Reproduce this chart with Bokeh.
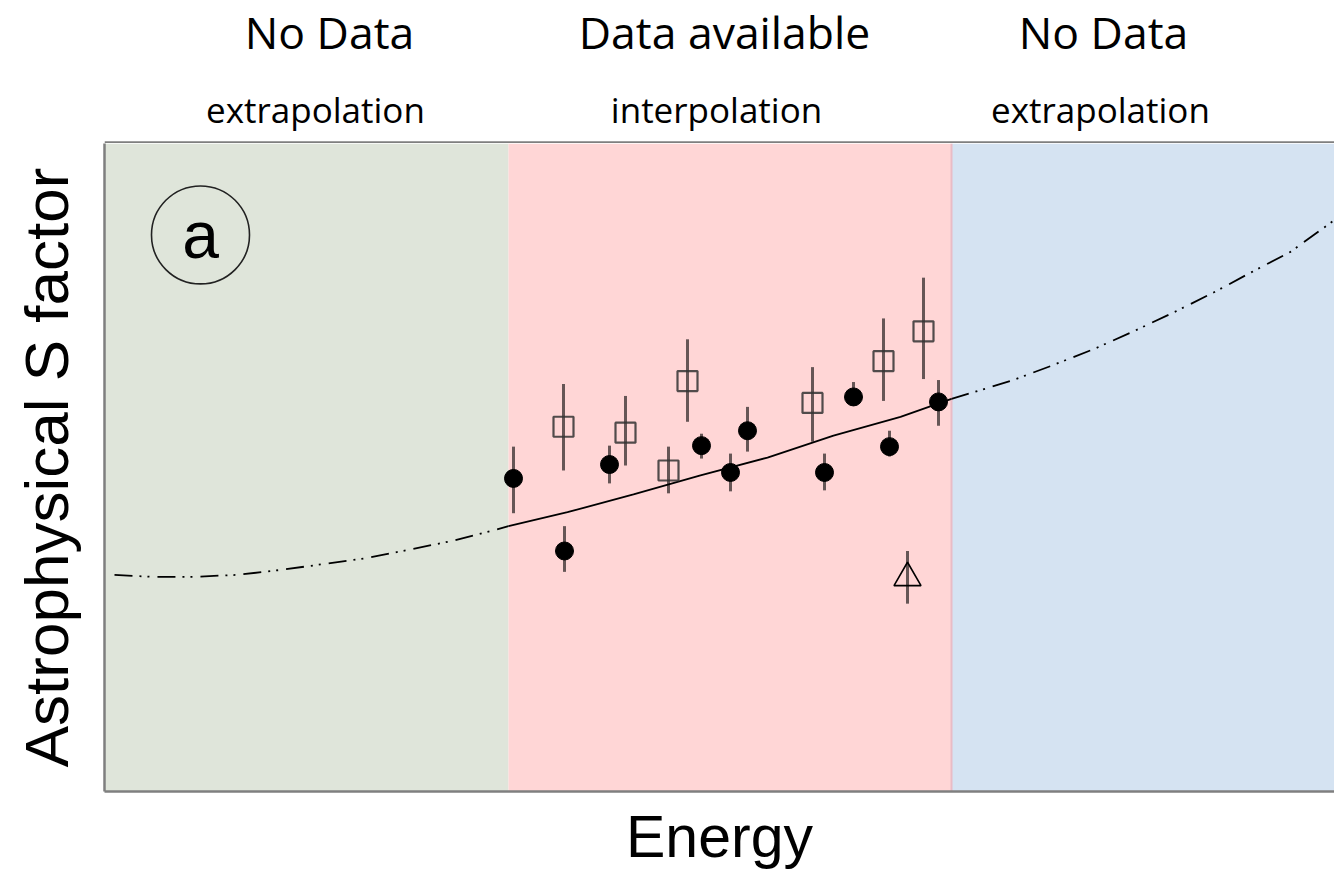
from bokeh.plotting import figure
from bokeh.layouts import column
from bokeh.models import Range1d, Label, FixedTicker
from bokeh.core.properties import value
from bokeh.embed import file_html
from bokeh.resources import INLINE

# ---------------- data ----------------
region_left = [0.0, 4.04, 8.47]
region_right = [4.04, 8.47, 12.3]
region_titles = ["No Data", "Data available", "No Data"]
region_subtitles = ["extrapolation", "interpolation", "extrapolation"]

# measured points (filled circles)
circ_x = [4.09, 4.60, 5.05, 5.97, 6.26, 6.43, 7.20, 7.49, 7.85, 8.34]
circ_y = [3.15, 2.42, 3.29, 3.48, 3.21, 3.63, 3.21, 3.97, 3.47, 3.92]
circ_lo = [2.80, 2.21, 3.10, 3.35, 3.02, 3.42, 3.03, 3.88, 3.37, 3.68]
circ_hi = [3.47, 2.67, 3.48, 3.60, 3.40, 3.87, 3.40, 4.12, 3.63, 4.14]

# measured points (open squares)
sq_x = [4.59, 5.21, 5.64, 5.83, 7.08, 7.79, 8.19]
sq_y = [3.67, 3.61, 3.23, 4.13, 3.91, 4.33, 4.63]
sq_lo = [3.23, 3.28, 3.00, 3.72, 3.52, 3.93, 4.15]
sq_hi = [4.10, 3.98, 3.47, 4.55, 4.27, 4.76, 5.17]

# measured point (open triangle)
tri_x = [8.03]
tri_y = [2.15]
tri_lo = [1.89]
tri_hi = [2.42]

# fitted S-factor curve
fit_lo_x = [0.10, 0.47, 0.90, 1.33, 1.77, 2.20, 2.63, 3.03, 3.47, 3.90, 4.04]
fit_lo_y = [2.18, 2.16, 2.16, 2.18, 2.23, 2.29, 2.35, 2.43, 2.52, 2.63, 2.67]
fit_mid_x = [4.04, 4.63, 5.29, 5.96, 6.63, 7.29, 7.96, 8.47]
fit_mid_y = [2.67, 2.81, 2.99, 3.18, 3.36, 3.58, 3.77, 3.95]
fit_hi_x = [8.47, 9.06, 9.46, 9.89, 10.29, 10.69, 11.09, 11.46, 11.86, 12.30]
fit_hi_y = [3.95, 4.13, 4.28, 4.45, 4.63, 4.82, 5.02, 5.22, 5.43, 5.75]

# ---------------- style / layout ----------------
region_colors = ["#dfe5da", "#ffd6d6", "#d5e3f2"]
title_x = [2.25, 6.20, 9.99]
subtitle_x = [2.11, 6.12, 9.96]
title_y = 1.12
subtitle_y = 0.336
panel_x, panel_y, panel_r = 0.96, 5.60, 0.49
frame_color = "#7f7f7f"

xr = Range1d(0, 12.3)

# header strip with the region captions
h = figure(width=1334, height=143, output_backend="svg", toolbar_location=None,
           x_range=xr, y_range=Range1d(0, 1.43),
           x_axis_location=None, y_axis_location=None,
           min_border_left=104, min_border_right=0, min_border_top=0, min_border_bottom=0,
           background_fill_color="white", border_fill_color="white")
h.grid.visible = False
h.outline_line_color = None
h.text(x=title_x, y=[title_y] * 3, text=region_titles, text_align="center",
       text_baseline="middle", text_font=value("Open Sans"),
       text_font_size=value("44.5px"), text_color="black")
h.text(x=subtitle_x, y=[subtitle_y] * 3, text=region_subtitles, text_align="center",
       text_baseline="middle", text_font=value("Open Sans"),
       text_font_size=value("35px"), text_color="black")
h.segment(x0=[0], y0=[0.01], x1=[12.3], y1=[0.01], line_color=frame_color, line_width=2.5)

# main chart
p = figure(width=1334, height=729, output_backend="svg", toolbar_location=None,
           x_range=xr, y_range=Range1d(0, 6.52),
           min_border_left=104, min_border_right=0, min_border_top=0, min_border_bottom=77,
           background_fill_color="white", border_fill_color="white")
p.grid.visible = False
p.outline_line_color = None

for ax in (p.xaxis[0], p.yaxis[0]):
    ax.ticker = FixedTicker(ticks=[])
    ax.axis_line_color = frame_color
    ax.axis_line_width = 2.5
    ax.major_tick_line_color = None
    ax.minor_tick_line_color = None
    ax.axis_label_text_font = "Liberation Sans"
    ax.axis_label_text_font_style = "normal"
    ax.axis_label_text_color = "black"

p.xaxis.axis_label = "Energy"
p.xaxis.axis_label_text_font_size = "59px"
p.xaxis.axis_label_standoff = 12
p.yaxis.axis_label = "Astrophysical S factor"
p.yaxis.axis_label_text_font_size = "62px"
p.yaxis.axis_label_standoff = 24

# regions
p.quad(left=region_left, right=region_right, bottom=0, top=6.52,
       fill_color=region_colors, line_color=None)
p.segment(x0=[region_right[1]], y0=[0], x1=[region_right[1]], y1=[6.52],
          line_color="#e9bcc6", line_width=2)

# curve
dash = "18 7 2 6 2 8"
p.line(fit_lo_x, fit_lo_y, line_color="black", line_width=1.8, line_dash=dash)
p.line(fit_mid_x, fit_mid_y, line_color="black", line_width=1.8)
p.line(fit_hi_x, fit_hi_y, line_color="black", line_width=1.8, line_dash=dash)

# error bars
err_kw = dict(line_color="black", line_alpha=0.6, line_width=3)
p.segment(x0=circ_x, y0=circ_lo, x1=circ_x, y1=circ_hi, **err_kw)
p.segment(x0=sq_x, y0=sq_lo, x1=sq_x, y1=sq_hi, **err_kw)
p.segment(x0=tri_x, y0=tri_lo, x1=tri_x, y1=tri_hi, **err_kw)

# markers
p.scatter(circ_x, circ_y, marker="circle", size=18, fill_color="black", line_color="black")
p.scatter(sq_x, sq_y, marker="square", size=20, fill_color=None, line_color="#333333",
          line_alpha=0.85, line_width=2.2)
p.scatter(tri_x, tri_y, marker="triangle", size=27, fill_color=None, line_color="black", line_width=1.6)

# panel label
p.circle(x=[panel_x], y=[panel_y], radius=panel_r, fill_color=None, line_color="#222222", line_width=1.6)
p.add_layout(Label(x=panel_x, y=panel_y, text="a", text_align="center", text_baseline="middle",
                   text_font="Liberation Sans", text_font_size="66px", text_color="black"))

layout = column(h, p, spacing=0)
open("out.html", "w").write(file_html(layout, INLINE))
